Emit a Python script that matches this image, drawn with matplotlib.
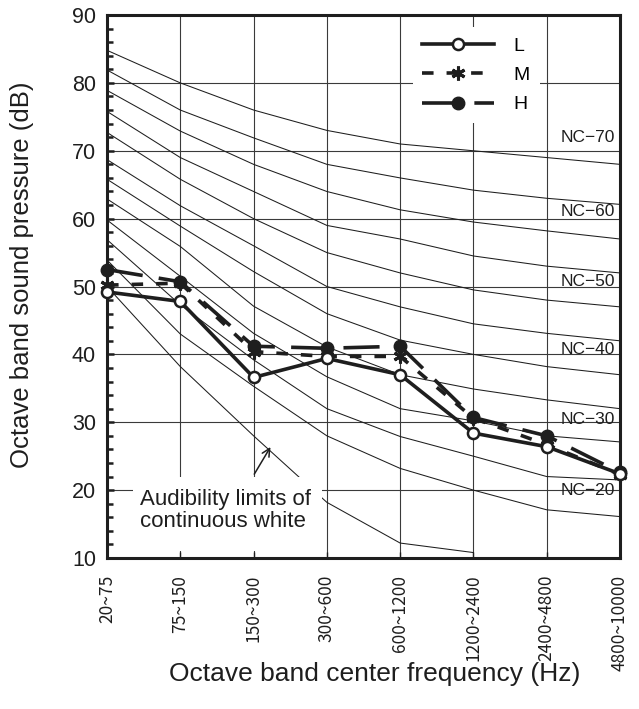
import numpy as np
import matplotlib
matplotlib.use("Agg")
import matplotlib.pyplot as plt
from matplotlib.patches import Rectangle
from matplotlib.ticker import MultipleLocator

plt.rcParams['font.family'] = ['Liberation Sans', 'Noto Sans CJK JP', 'DejaVu Sans']

# ---------------- data ----------------
bands = ["20~75", "75~150", "150~300", "300~600", "600~1200",
         "1200~2400", "2400~4800", "4800~10000"]

nc_names = ["NC-70", "NC-65", "NC-60", "NC-55", "NC-50", "NC-45",
            "NC-40", "NC-35", "NC-30", "NC-25", "NC-20"]
nc70 = [84.8, 80.0, 76.0, 73.0, 71.0, 70.0, 69.0, 68.0]
nc65 = [81.9, 76.0, 71.9, 68.0, 66.0, 64.2, 63.0, 62.1]
nc60 = [78.9, 72.9, 68.0, 64.0, 61.3, 59.5, 58.2, 57.0]
nc55 = [75.8, 69.0, 64.0, 59.0, 57.0, 54.5, 53.0, 52.0]
nc50 = [72.7, 65.8, 60.0, 55.0, 52.0, 49.5, 48.0, 47.0]
nc45 = [68.7, 61.9, 56.0, 50.0, 47.0, 44.5, 43.1, 42.0]
nc40 = [65.8, 58.9, 52.2, 46.0, 42.1, 40.0, 38.2, 37.0]
nc35 = [62.9, 55.9, 47.1, 41.1, 37.0, 34.9, 33.3, 32.0]
nc30 = [59.8, 51.5, 43.1, 36.7, 32.0, 30.2, 28.0, 27.1]
nc25 = [56.9, 47.3, 39.2, 32.0, 27.9, 25.0, 22.0, 21.5]
nc20 = [53.9, 43.0, 35.3, 28.0, 23.2, 20.0, 17.1, 16.1]
nc_curves = [nc70, nc65, nc60, nc55, nc50, nc45, nc40, nc35, nc30, nc25, nc20]

audibility = [50.0, 38.2, 28.0, 18.2, 12.2, 10.8]   # first 6 bands

L_vals = [49.2, 47.8, 36.6, 39.4, 37.0, 28.4, 26.4, 22.4]
M_vals = [50.2, 50.5, 40.4, 39.7, 39.7, 30.6, 26.7, 22.3]
H_vals = [52.5, 50.7, 41.2, 40.9, 41.2, 30.7, 28.0, 22.6]

nc_label_text = ["NC−70", "NC−60", "NC−50", "NC−40", "NC−30", "NC−20"]
nc_label_y = [72.0, 61.0, 50.7, 40.7, 30.4, 20.0]

# ---------------- figure ----------------
ink = '#1e1e1e'
fig = plt.figure(figsize=(6.39, 7.09), dpi=100)
ax = fig.add_axes([0.1675, 0.213, 0.8027, 0.7658])

x = np.arange(len(bands))
ax.set_xlim(0, len(bands) - 1)
ax.set_ylim(10, 90)

# grid
ax.grid(True, which='major', color='#3a3a3a', linewidth=0.8)
ax.set_axisbelow(True)
ax.yaxis.set_major_locator(MultipleLocator(10))
ax.yaxis.set_minor_locator(MultipleLocator(2))

# NC curves
for c in nc_curves:
    ax.plot(x, c, color=ink, lw=0.75, zorder=2)
ax.plot(x[:len(audibility)], audibility, color=ink, lw=0.75, zorder=2)

# NC labels
for t, yv in zip(nc_label_text, nc_label_y):
    ax.text(6.93, yv, t, ha='right', va='center', fontsize=12.5, color=ink, zorder=4)

# white box for annotation text
ax.add_patch(Rectangle((0.355, 11.0), 2.575, 11.0, facecolor='white',
                       edgecolor='none', zorder=2.6))
ax.text(0.45, 17.0, "Audibility limits of\ncontinuous white", ha='left', va='center',
        fontsize=16, color=ink, linespacing=1.1, zorder=4)
ax.annotate("", xy=(2.25, 26.7), xytext=(1.99, 22.0),
            arrowprops=dict(arrowstyle='->', color=ink, lw=1.1,
                            mutation_scale=14), zorder=4)

# data series
lw = 2.6
ax.plot(x, H_vals, color=ink, lw=lw, linestyle=(0, (10, 4.5)), marker='o',
        markersize=9, markerfacecolor=ink, markeredgecolor=ink, zorder=5,
        label='H', clip_on=False)
ax.plot(x, M_vals, color=ink, lw=lw, linestyle=(0, (3.2, 3.6)), marker=(6, 2, 0),
        markersize=10, markeredgewidth=2.2, markeredgecolor=ink, zorder=6,
        label='M', clip_on=False)
ax.plot(x, L_vals, color=ink, lw=lw, linestyle='-', marker='o',
        markersize=8, markerfacecolor='white', markeredgecolor=ink,
        markeredgewidth=1.8, zorder=7, label='L', clip_on=False)

handles, labels = ax.get_legend_handles_labels()
order = [2, 1, 0]
leg = ax.legend([handles[i] for i in order], [labels[i] for i in order],
                loc='upper left', bbox_to_anchor=(0.577, 0.995),
                frameon=True, fancybox=False, framealpha=1, facecolor='white',
                edgecolor='none', fontsize=14, handlelength=3.7,
                handletextpad=1.0, labelspacing=0.6, borderpad=0.5)
leg.set_zorder(8)

# spines & ticks
for s in ax.spines.values():
    s.set_linewidth(2.2)
    s.set_color(ink)
ax.tick_params(axis='y', which='both', direction='in', length=4.5, width=1.8,
               labelsize=15.5, pad=8, colors=ink, right=False)
ax.tick_params(axis='y', which='major', length=5)
ax.tick_params(axis='x', which='major', direction='in', length=4, width=1,
               pad=12, colors=ink)
ax.set_xticks(x)
ax.set_xticklabels(bands, rotation=90, fontsize=12.5, va='top', ha='center',
                   family=['Noto Sans CJK JP', 'DejaVu Sans'])

fig.text(0.034, 0.612, "Octave band sound pressure (dB)", rotation=90,
         ha='center', va='center', fontsize=18.5, color=ink)
fig.text(0.587, 0.049, "Octave band center frequency (Hz)",
         ha='center', va='center', fontsize=19, color=ink)

fig.savefig("out.png", dpi=100)
